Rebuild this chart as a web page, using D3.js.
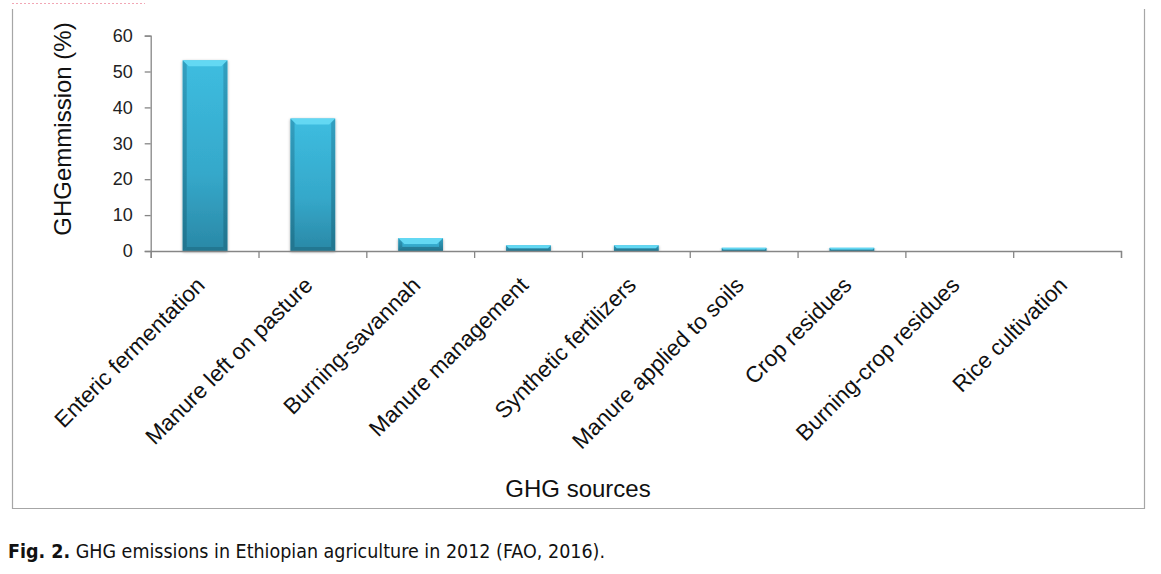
<!DOCTYPE html>
<html>
<head>
<meta charset="utf-8">
<title>GHG emissions in Ethiopian agriculture</title>
<script src="https://d3js.org/d3.v7.min.js"></script>
<style>
  body { margin: 0; background: #fff; }
</style>
</head>
<body>
<svg id="chart"></svg>
<script>
// data
var sources = ["Enteric fermentation", "Manure left on pasture", "Burning-savannah",
  "Manure management", "Synthetic fertilizers", "Manure applied to soils",
  "Crop residues", "Burning-crop residues", "Rice cultivation"];
var emission = [53.1, 36.9, 3.6, 1.6, 1.6, 0.9, 0.9, 0, 0];
var yTicks = [0, 10, 20, 30, 40, 50, 60];

var W = 1161, H = 574;
var svg = d3.select("#chart").attr("width", W).attr("height", H);

var defs = svg.append("defs");
var g1 = defs.append("linearGradient").attr("id", "face")
  .attr("x1", 0).attr("y1", 0).attr("x2", 0).attr("y2", 1);
g1.append("stop").attr("offset", "0%").attr("stop-color", "#3dbde0");
g1.append("stop").attr("offset", "60%").attr("stop-color", "#35a8ca");
g1.append("stop").attr("offset", "100%").attr("stop-color", "#2a88a6");
var g2 = defs.append("linearGradient").attr("id", "side")
  .attr("x1", 0).attr("y1", 0).attr("x2", 0).attr("y2", 1);
g2.append("stop").attr("offset", "0%").attr("stop-color", "#2f98b8");
g2.append("stop").attr("offset", "100%").attr("stop-color", "#1f6f88");
var f = defs.append("filter").attr("id", "shadow")
  .attr("x", "-20%").attr("y", "-5%").attr("width", "140%").attr("height", "110%");
f.append("feGaussianBlur").attr("in", "SourceAlpha").attr("stdDeviation", 1.5);
f.append("feOffset").attr("dx", 0).attr("dy", 1).attr("result", "b");
f.append("feComponentTransfer").append("feFuncA").attr("type", "linear").attr("slope", 0.35);
var fm = f.append("feMerge");
fm.append("feMergeNode");
fm.append("feMergeNode").attr("in", "SourceGraphic");

// outer frame (top edge is cut off in the figure)
svg.append("path")
  .attr("d", "M12.5,9 V508.5 H1144.5 V9")
  .attr("fill", "none").attr("stroke", "#a6a6a6").attr("stroke-width", 1.2);

// small cropped remnants at the very top
svg.append("line").attr("x1", 12).attr("x2", 145).attr("y1", 3.5).attr("y2", 3.5)
  .attr("stroke", "#f2a7b5").attr("stroke-width", 1).attr("stroke-dasharray", "2,2");

var x = d3.scaleBand().domain(sources).range([150.7, 1121]).padding(0);
var y = d3.scaleLinear().domain([0, 60]).range([251, 35.6]);

// y axis
var yAxis = svg.append("g")
  .attr("transform", "translate(150.7,0)")
  .call(d3.axisLeft(y).tickValues(yTicks).tickSize(6).tickPadding(12));
yAxis.select(".domain").attr("stroke", "#868686").attr("stroke-width", 1.3);
yAxis.selectAll(".tick line").attr("stroke", "#868686").attr("stroke-width", 1.3);
yAxis.selectAll(".tick text")
  .attr("font-family", "Liberation Sans, Arial, sans-serif")
  .attr("font-size", 18).attr("fill", "#222");

// bars
var bw = x.bandwidth() * 0.414, off = x.bandwidth() * 0.297;
var bars = svg.append("g").selectAll("g.bar")
  .data(sources.map(function(s, i) { return { name: s, v: emission[i] }; }))
  .enter().append("g").attr("class", "bar")
  .filter(function(d) { return d.v > 0; })
  .attr("filter", "url(#shadow)");

bars.append("rect")
  .attr("x", function(d) { return x(d.name) + off; })
  .attr("y", function(d) { return y(d.v); })
  .attr("width", bw)
  .attr("height", function(d) { return y(0) - y(d.v); })
  .attr("fill", "url(#face)");

// side bevels
bars.append("path").attr("fill", "url(#side)").attr("opacity", 0.8)
  .attr("d", function(d) {
    var x0 = x(d.name) + off, t = y(d.v), b = y(0);
    var e = Math.min(4, (b - t) / 2);
    return "M" + x0 + "," + t + " L" + (x0 + e) + "," + (t + e) + " L" + (x0 + e) + "," + (b - e) +
      " L" + x0 + "," + b + "Z M" + (x0 + bw) + "," + t + " L" + (x0 + bw - e) + "," + (t + e) +
      " L" + (x0 + bw - e) + "," + (b - e) + " L" + (x0 + bw) + "," + b + "Z";
  });
// bottom bevel
bars.append("path").attr("fill", "#216f88").attr("opacity", 0.7)
  .attr("d", function(d) {
    var x0 = x(d.name) + off, t = y(d.v), b = y(0);
    var e = Math.min(4, (b - t) / 2);
    return "M" + x0 + "," + b + " L" + (x0 + e) + "," + (b - e) + " L" + (x0 + bw - e) + "," + (b - e) +
      " L" + (x0 + bw) + "," + b + "Z";
  });
// top bevel
bars.append("path").attr("fill", "#63d8f3")
  .attr("d", function(d) {
    var x0 = x(d.name) + off, t = y(d.v), b = y(0);
    var e = Math.min(6, (b - t) / 2);
    return "M" + x0 + "," + t + " L" + (x0 + bw) + "," + t + " L" + (x0 + bw - e) + "," + (t + e) +
      " L" + (x0 + e) + "," + (t + e) + "Z";
  });

// x axis with ticks at category boundaries
var bounds = sources.map(function(s) { return x(s); }).concat([x.range()[1]]);
var xb = d3.scaleLinear().domain([150.7, 1121]).range([150.7, 1121]);
var xAxis = svg.append("g")
  .attr("transform", "translate(0," + y(0) + ")")
  .call(d3.axisBottom(xb).tickValues(bounds).tickSize(7).tickFormat(""));
xAxis.select(".domain").attr("stroke", "#868686").attr("stroke-width", 1.3);
xAxis.selectAll(".tick line").attr("stroke", "#868686").attr("stroke-width", 1.3);

// rotated category labels
svg.append("g").selectAll("text")
  .data(sources).enter().append("text")
  .attr("transform", function(d) {
    return "translate(" + (x(d) + x.bandwidth() / 2 - 4) + "," + (y(0) + 30) + ") rotate(-45)";
  })
  .attr("text-anchor", "end")
  .attr("dy", "0.35em")
  .attr("font-family", "Liberation Sans, Arial, sans-serif")
  .attr("font-size", 22.5).attr("fill", "#111")
  .text(function(d) { return d; });

// axis titles
svg.append("text")
  .attr("transform", "translate(71,129) rotate(-90)")
  .attr("text-anchor", "middle")
  .attr("font-family", "Liberation Sans, Arial, sans-serif")
  .attr("font-size", 24).attr("fill", "#111")
  .text("GHGemmission (%)");

svg.append("text")
  .attr("x", 578).attr("y", 497)
  .attr("text-anchor", "middle")
  .attr("font-family", "Liberation Sans, Arial, sans-serif")
  .attr("font-size", 24).attr("fill", "#111")
  .text("GHG sources");

// caption
var cap = svg.append("text")
  .attr("x", 8).attr("y", 558)
  .attr("font-family", "DejaVu Sans, Verdana, sans-serif")
  .attr("font-size", 19).attr("fill", "#111")
  .attr("textLength", 597).attr("lengthAdjust", "spacingAndGlyphs");
cap.append("tspan").attr("font-weight", "bold").text("Fig. 2.");
cap.append("tspan").text(" GHG emissions in Ethiopian agriculture in 2012 (FAO, 2016).");
</script>
</body>
</html>
